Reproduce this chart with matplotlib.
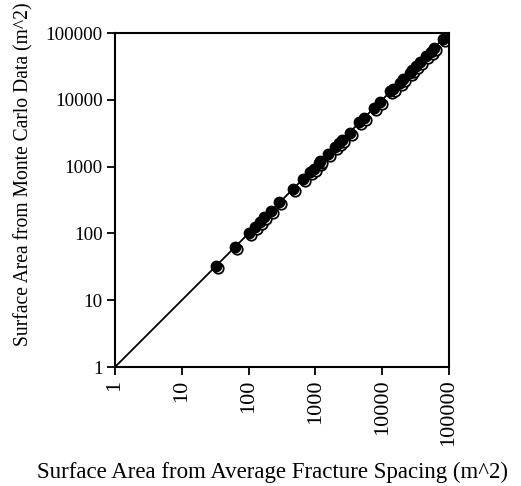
import matplotlib
matplotlib.use('Agg')
import matplotlib.pyplot as plt
import matplotlib.transforms as mtransforms

plt.rcParams['font.family'] = ['Liberation Serif', 'DejaVu Serif']

# average fracture spacing estimate vs Monte Carlo estimate (m^2)
avg_spacing = [32, 62, 102, 126, 150, 172, 216, 290, 457, 650, 820, 940, 1120,
               1190, 1550, 1950, 2260, 2510, 3240, 4570, 5430, 7500, 9230,
               13300, 14500, 18200, 20400, 25700, 28200, 31600, 36300, 44700,
               53000, 59600, 82200]
monte_carlo = [32, 62, 102, 126, 150, 175, 214, 292, 460, 650, 830, 935, 1120,
               1200, 1540, 1960, 2250, 2520, 3230, 4600, 5420, 7520, 9200,
               13400, 14600, 18100, 20500, 25600, 28300, 31800, 36200, 44800,
               52800, 59800, 82500]
line_x = [1, 100000]
line_y = [1, 100000]
ticks = [1, 10, 100, 1000, 10000, 100000]
tick_labels = ['1', '10', '100', '1000', '10000', '100000']

fig = plt.figure(figsize=(5.21, 4.86), dpi=100)
ax = fig.add_axes([115/521, 1 - 367/486, 334/521, 334/486])

ax.plot(line_x, line_y, color='black', lw=1.3, zorder=1)
shift = mtransforms.ScaledTranslation(2/100, -2/100, fig.dpi_scale_trans)
ax.plot(avg_spacing, monte_carlo, 'o', ms=7.5, mfc='white', mec='black', mew=1.3,
        transform=ax.transData + shift, zorder=2)
ax.plot(avg_spacing, monte_carlo, 'o', ms=7.5, mfc='black', mec='black', mew=1,
        zorder=3)

ax.set_xscale('log')
ax.set_yscale('log')
ax.set_xlim(1, 100000)
ax.set_ylim(1, 100000)
ax.minorticks_off()
ax.set_xticks(ticks)
ax.set_xticklabels(tick_labels, rotation=90)
ax.set_yticks(ticks)
ax.set_yticklabels(tick_labels)
ax.tick_params(direction='out', length=6, width=1.3, pad=3)
ax.tick_params(axis='x', labelsize=16)
ax.tick_params(axis='y', labelsize=13.7)
for s in ax.spines.values():
    s.set_linewidth(1.5)

ax.set_xlabel('Surface Area from Average Fracture Spacing (m^2)', fontsize=16.5)
ax.xaxis.set_label_coords(0.473, -0.283)
ax.set_ylabel('Surface Area from Monte Carlo Data (m^2)', fontsize=14.1)
ax.yaxis.set_label_coords(-0.243, 0.578)

fig.savefig('out.png', dpi=100)
